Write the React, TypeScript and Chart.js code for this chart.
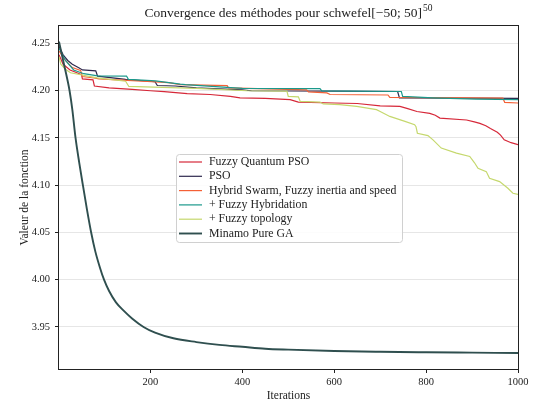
import { useEffect, useRef } from "react";
import { Chart, registerables } from "chart.js";

Chart.register(...registerables);

const TITLE_MAIN = "Convergence des méthodes pour schwefel[−50; 50]";
const TITLE_SUP = "50";
const X_LABEL = "Iterations";
const Y_LABEL = "Valeur de la fonction";
const SERIES_NAMES = [
  "Fuzzy Quantum PSO",
  "PSO",
  "Hybrid Swarm, Fuzzy inertia and speed",
  "+ Fuzzy Hybridation",
  "+ Fuzzy topology",
  "Minamo Pure GA",
];
const SERIES_COLORS = ["#d62839", "#2e294e", "#f46036", "#1b998b", "#c5d86d", "#2f4f4f"];
const SERIES_WIDTHS = [1.2, 1.2, 1.2, 1.2, 1.2, 1.9];
const X_TICKS = [200, 400, 600, 800, 1000];
const Y_TICKS = [3.95, 4.0, 4.05, 4.1, 4.15, 4.2, 4.25];

const fqpsoIters = [1, 10, 25, 40, 50, 52, 75, 78, 110, 160, 200, 230, 280, 330, 374, 395, 450, 504, 522, 600, 650, 700, 743, 760, 780, 808, 820, 830, 888, 905, 917, 930, 940, 955, 962, 970, 985, 1000];
const fqpsoValues = [4.238, 4.228, 4.222, 4.219, 4.217, 4.2125, 4.2115, 4.205, 4.203, 4.2015, 4.2, 4.199, 4.197, 4.196, 4.194, 4.1925, 4.192, 4.1905, 4.188, 4.187, 4.1865, 4.184, 4.1834, 4.181, 4.178, 4.176, 4.174, 4.171, 4.169, 4.167, 4.1655, 4.163, 4.16, 4.156, 4.153, 4.148, 4.145, 4.143];

const psoIters = [1, 10, 20, 30, 45, 52, 81, 85, 146, 210, 215, 254, 300, 400, 420, 600, 738, 742, 1000];
const psoValues = [4.247, 4.238, 4.232, 4.228, 4.224, 4.222, 4.221, 4.2155, 4.212, 4.2095, 4.2055, 4.205, 4.203, 4.201, 4.2, 4.1995, 4.1992, 4.1925, 4.1918];

const hybridIters = [1, 15, 30, 48, 52, 77, 88, 128, 193, 240, 265, 367, 370, 540, 544, 584, 591, 717, 721, 967, 971, 1000];
const hybridValues = [4.242, 4.232, 4.2245, 4.2215, 4.215, 4.2135, 4.2125, 4.2115, 4.21, 4.2086, 4.2065, 4.2054, 4.203, 4.201, 4.1987, 4.1977, 4.196, 4.1955, 4.193, 4.1922, 4.1877, 4.187];

const fuzzyHybIters = [1, 15, 33, 55, 85, 148, 152, 211, 265, 276, 350, 400, 569, 573, 746, 749, 815, 909, 1000];
const fuzzyHybValues = [4.245, 4.232, 4.222, 4.218, 4.2158, 4.2155, 4.212, 4.2104, 4.207, 4.2065, 4.204, 4.2025, 4.2022, 4.1998, 4.1992, 4.194, 4.1925, 4.1912, 4.1906];

const topoIters = [1, 5, 15, 26, 84, 146, 153, 300, 410, 497, 500, 522, 526, 569, 576, 612, 649, 692, 699, 721, 754, 775, 778, 781, 804, 815, 833, 866, 895, 905, 913, 931, 938, 960, 978, 989, 1000];
const topoValues = [4.236, 4.228, 4.2227, 4.219, 4.2136, 4.21, 4.2045, 4.2025, 4.2, 4.1995, 4.194, 4.1935, 4.1887, 4.188, 4.186, 4.1853, 4.1834, 4.18, 4.1782, 4.1728, 4.1675, 4.164, 4.162, 4.155, 4.1525, 4.148, 4.1393, 4.134, 4.1304, 4.124, 4.118, 4.1144, 4.1074, 4.1038, 4.0968, 4.0915, 4.0904];

const gaIters = [1, 10, 20, 24, 30, 37, 45, 53, 62, 71, 80, 90, 99, 110, 125, 140, 160, 185, 210, 250, 300, 350, 400, 450, 500, 600, 700, 800, 900, 1000];
const gaValues = [4.252, 4.232, 4.21, 4.2, 4.18, 4.15, 4.124, 4.1, 4.074, 4.05, 4.03, 4.013, 4.0, 3.988, 3.976, 3.968, 3.959, 3.95, 3.944, 3.938, 3.934, 3.931, 3.929, 3.927, 3.926, 3.9245, 3.9237, 3.9232, 3.9228, 3.9224];

const SERIES_ITERS = [fqpsoIters, psoIters, hybridIters, fuzzyHybIters, topoIters, gaIters];
const SERIES_VALUES = [fqpsoValues, psoValues, hybridValues, fuzzyHybValues, topoValues, gaValues];

const FONT = "'Liberation Serif', 'DejaVu Serif', serif";
const TEXT_COLOR = "#222";

const titlePlugin = {
  id: "supTitle",
  afterDraw(chart: any) {
    const { ctx, chartArea } = chart;
    ctx.save();
    ctx.fillStyle = TEXT_COLOR;
    ctx.textBaseline = "middle";
    ctx.textAlign = "left";
    const mainFont = `13.5px ${FONT}`;
    const supFont = `9.5px ${FONT}`;
    ctx.font = mainFont;
    const wMain = ctx.measureText(TITLE_MAIN).width;
    ctx.font = supFont;
    const wSup = ctx.measureText(TITLE_SUP).width;
    const total = wMain + 1 + wSup;
    const cx = (chartArea.left + chartArea.right) / 2;
    const x0 = cx - total / 2;
    const y = 13;
    ctx.font = mainFont;
    ctx.fillText(TITLE_MAIN, x0, y);
    ctx.font = supFont;
    ctx.fillText(TITLE_SUP, x0 + wMain + 1, y - 5);
    ctx.restore();
  },
};

const framePlugin = {
  id: "frame",
  afterDatasetsDraw(chart: any) {
    const { ctx, chartArea } = chart;
    ctx.save();
    ctx.strokeStyle = "#222";
    ctx.lineWidth = 1;
    ctx.strokeRect(
      Math.round(chartArea.left) - 0.5,
      Math.round(chartArea.top) - 0.5,
      Math.round(chartArea.right - chartArea.left) + 1,
      Math.round(chartArea.bottom - chartArea.top) + 1
    );
    ctx.restore();
  },
};

const legendPlugin = {
  id: "insideLegend",
  afterDraw(chart: any) {
    const { ctx, chartArea } = chart;
    const left = chartArea.left + 117;
    const top = chartArea.top + 128;
    const w = 226;
    const h = 88;
    ctx.save();
    ctx.beginPath();
    if (ctx.roundRect) ctx.roundRect(left + 0.5, top + 0.5, w, h, 3);
    else ctx.rect(left + 0.5, top + 0.5, w, h);
    ctx.fillStyle = "rgba(255,255,255,0.85)";
    ctx.fill();
    ctx.strokeStyle = "#d0d0d0";
    ctx.lineWidth = 1;
    ctx.stroke();
    ctx.font = `11.8px ${FONT}`;
    ctx.textBaseline = "middle";
    ctx.textAlign = "left";
    SERIES_NAMES.forEach((name, i) => {
      const y = top + 8 + i * 14.3;
      ctx.strokeStyle = SERIES_COLORS[i];
      ctx.lineWidth = SERIES_WIDTHS[i];
      ctx.beginPath();
      ctx.moveTo(left + 3, y);
      ctx.lineTo(left + 26, y);
      ctx.stroke();
      ctx.fillStyle = TEXT_COLOR;
      ctx.fillText(name, left + 33, y);
    });
    ctx.restore();
  },
};

export default function App() {
  const canvasRef = useRef<HTMLCanvasElement | null>(null);

  useEffect(() => {
    if (!canvasRef.current) return;
    const n = SERIES_NAMES.length;
    const datasets = SERIES_NAMES.map((name, i) => ({
      label: name,
      data: SERIES_ITERS[i].map((x, j) => ({ x, y: SERIES_VALUES[i][j] })),
      borderColor: SERIES_COLORS[i],
      backgroundColor: SERIES_COLORS[i],
      borderWidth: SERIES_WIDTHS[i],
      pointRadius: 0,
      fill: false,
      order: n - 1 - i,
      cubicInterpolationMode: i === n - 1 ? ("monotone" as const) : ("default" as const),
      tension: 0,
    }));

    const chart = new Chart(canvasRef.current, {
      type: "line",
      data: { datasets },
      plugins: [framePlugin, legendPlugin, titlePlugin],
      options: {
        responsive: false,
        animation: false,
        layout: { padding: { left: 0, right: 16, top: 26, bottom: 0 } },
        plugins: {
          legend: { display: false },
          tooltip: { enabled: false },
          title: { display: false },
        },
        scales: {
          x: {
            type: "linear",
            min: 1,
            max: 1000,
            afterBuildTicks: (scale: any) => {
              scale.ticks = X_TICKS.map((v) => ({ value: v }));
            },
            afterFit: (scale: any) => {
              scale.height = 34;
            },
            grid: {
              drawOnChartArea: false,
              drawTicks: true,
              tickLength: 4,
              tickColor: "#222",
            },
            border: { display: false },
            ticks: {
              color: TEXT_COLOR,
              font: { family: FONT, size: 10.5 },
              padding: 3,
              maxRotation: 0,
              callback: (v: any) => String(v),
            },
            title: {
              display: true,
              text: X_LABEL,
              color: TEXT_COLOR,
              font: { family: FONT, size: 11.5 },
              padding: { top: 0, bottom: 0.5 },
            },
          },
          y: {
            type: "linear",
            min: 3.9055,
            max: 4.2685,
            afterBuildTicks: (scale: any) => {
              scale.ticks = Y_TICKS.map((v) => ({ value: v }));
            },
            afterFit: (scale: any) => {
              scale.width = 59;
            },
            grid: {
              color: "#e6e6e6",
              lineWidth: 1,
              drawTicks: true,
              tickLength: 4,
              tickColor: "#222",
            },
            border: { display: false },
            ticks: {
              color: TEXT_COLOR,
              font: { family: FONT, size: 10.5 },
              padding: 5,
              callback: (v: any) => Number(v).toFixed(2),
            },
            title: {
              display: true,
              text: Y_LABEL,
              color: TEXT_COLOR,
              font: { family: FONT, size: 11.5 },
              padding: { top: 18, bottom: 0 },
            },
          },
        },
      },
    } as any);

    return () => chart.destroy();
  }, []);

  return (
    <div style={{ position: "absolute", left: 0, top: 0, width: 534, height: 403, background: "#fff" }}>
      <canvas ref={canvasRef} width={534} height={403} style={{ display: "block", width: 534, height: 403 }} />
    </div>
  );
}
